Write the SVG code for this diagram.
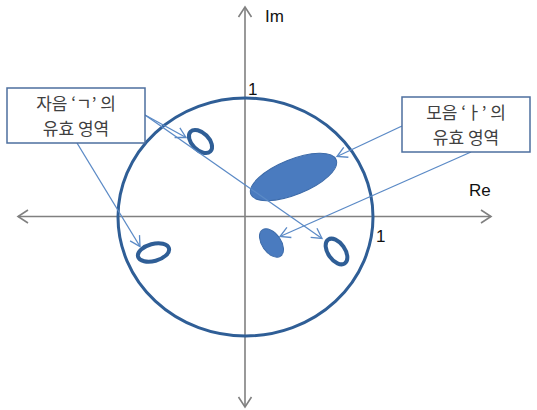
<svg xmlns="http://www.w3.org/2000/svg" width="537" height="410" viewBox="0 0 537 410">
<style>
.axis{stroke:#808080;stroke-width:1.6;fill:none}
.conn{stroke:#5b8ac6;stroke-width:1.3;fill:none}
.ring{stroke:#2f5e96;stroke-width:4;fill:none}
.blob{fill:#4a7bbf;stroke:#3c6aa8;stroke-width:1}
.box{fill:#ffffff;stroke:#4d6f9f;stroke-width:1.5}
.kt{font-family:"Noto Sans CJK KR","Noto Sans",sans-serif;font-size:17px;fill:#404040;text-anchor:middle}
.lt{font-family:"Liberation Sans","Noto Sans",sans-serif;font-size:17px;fill:#111111}
</style>
<defs>
<marker id="axArrow" markerUnits="userSpaceOnUse" viewBox="-12 -9 14 18" refX="0" refY="0" markerWidth="14" markerHeight="18" orient="auto-start-reverse">
<path d="M-10,-6.5 L0,0 L-10,6.5" fill="none" stroke="#808080" stroke-width="1.6"/>
</marker>
<marker id="lnArrow" markerUnits="userSpaceOnUse" viewBox="-12 -8 14 16" refX="0" refY="0" markerWidth="14" markerHeight="16" orient="auto">
<path d="M-10,-5.5 L0,0 L-10,5.5" fill="none" stroke="#5b8ac6" stroke-width="1.3"/>
</marker>
</defs>
<rect width="537" height="410" fill="#ffffff"/>
<g id="axes">
<line class="axis" x1="18" y1="216.5" x2="491" y2="216.5" marker-start="url(#axArrow)" marker-end="url(#axArrow)"/>
<line class="axis" x1="245" y1="7" x2="245" y2="407" marker-start="url(#axArrow)" marker-end="url(#axArrow)"/>
<text class="lt" x="265" y="22">Im</text>
<text class="lt" x="469" y="196">Re</text>
<text class="lt" x="248" y="95">1</text>
<text class="lt" x="376" y="242">1</text>
</g>
<g id="unit-circle">
<ellipse cx="245.5" cy="217" rx="127.5" ry="119" fill="none" stroke="#2f5e96" stroke-width="3"/>
</g>
<g id="vowel-region-large">
<ellipse class="blob" cx="293.5" cy="177" rx="46" ry="17.5" transform="rotate(-22 293.5 177)"/>
</g>
<g id="vowel-region-small">
<ellipse class="blob" cx="271.5" cy="243" rx="16" ry="9.5" transform="rotate(55 271.5 243)"/>
</g>
<g id="consonant-region-1">
<ellipse class="ring" cx="200.5" cy="141.5" rx="14" ry="8.5" transform="rotate(45 200.5 141.5)"/>
</g>
<g id="consonant-region-2">
<ellipse class="ring" cx="153.5" cy="252.5" rx="16" ry="8.5" transform="rotate(-15 153.5 252.5)"/>
</g>
<g id="consonant-region-3">
<ellipse class="ring" cx="336.5" cy="251.5" rx="14.5" ry="8.5" transform="rotate(55 336.5 251.5)"/>
</g>
<g id="connectors">
<line class="conn" x1="145" y1="115" x2="186" y2="137.5" marker-end="url(#lnArrow)"/>
<line class="conn" x1="145" y1="115" x2="322" y2="238.5" marker-end="url(#lnArrow)"/>
<line class="conn" x1="77" y1="143" x2="140" y2="246.5" marker-end="url(#lnArrow)"/>
<line class="conn" x1="402" y1="126" x2="337" y2="156.5" marker-end="url(#lnArrow)"/>
<line class="conn" x1="471" y1="152" x2="280" y2="236.5" marker-end="url(#lnArrow)"/>
</g>
<g id="label-consonant">
<rect class="box" x="7" y="88" width="138" height="55"/>
<text class="kt"><tspan x="76" y="110">자음 ‘ㄱ’ 의</tspan><tspan x="76" y="135">유효 영역</tspan></text>
</g>
<g id="label-vowel">
<rect class="box" x="402" y="97" width="128" height="55"/>
<text class="kt"><tspan x="466" y="119">모음 ‘ㅏ’ 의</tspan><tspan x="466" y="144">유효 영역</tspan></text>
</g>
</svg>
